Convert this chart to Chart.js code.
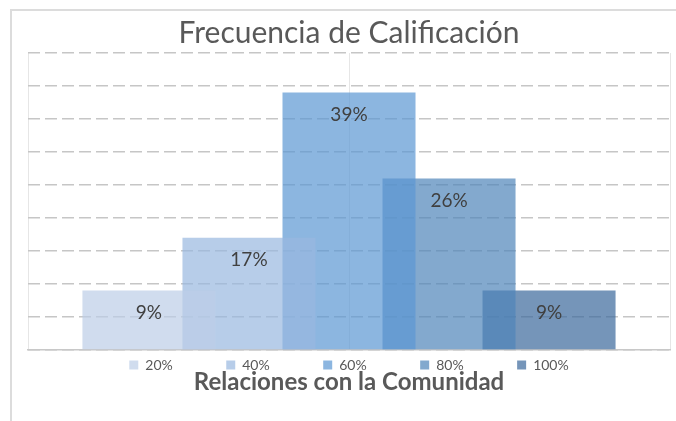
<!DOCTYPE html>
<html>
<head>
<meta charset="utf-8">
<script src="https://cdn.jsdelivr.net/npm/chart.js@4"></script>
<style>
  html, body { margin: 0; padding: 0; background: #ffffff; }
  #wrap { position: relative; width: 676px; height: 421px; overflow: hidden; }
  #frame { position: absolute; left: 10px; top: 9px; width: 700px; height: 440px;
           border: 2px solid #dcdcdc; box-sizing: border-box; pointer-events: none; }
  canvas { position: absolute; left: 0; top: 0; }
</style>
</head>
<body>
<div id="wrap">
  <div id="frame"></div>
  <canvas id="c" width="676" height="421"></canvas>
</div>
<script>
// ---- data ----
const chartTitle = 'Frecuencia de Calificación';
const axisTitle = 'Relaciones con la Comunidad';
const categories = [''];
const seriesNames = ['20%', '40%', '60%', '80%', '100%'];
const seriesValues = [9, 17, 39, 26, 9];
const yMax = 45;
const yStep = 5;
const gridSlots = ['', '', ''];

// ---- styles ----
const seriesColors = [
  'rgba(188,205,231,0.7)',
  'rgba(152,184,224,0.7)',
  'rgba(91,151,211,0.7)',
  'rgba(79,132,185,0.7)',
  'rgba(58,104,155,0.7)'
];
const FONT = 'Lato';
const legendGap = '\u2003\u2003\u2003\u2003\u2005';

const datasets = seriesNames.map((name, i) => ({
  label: name,
  data: [seriesValues[i]],
  backgroundColor: seriesColors[i],
  borderWidth: 0
}));

const barLabels = {
  id: 'barLabels',
  afterDatasetsDraw(chart) {
    const ctx = chart.ctx;
    ctx.save();
    ctx.font = '19px ' + FONT;
    ctx.fillStyle = '#404040';
    ctx.textAlign = 'center';
    ctx.textBaseline = 'middle';
    chart.data.datasets.forEach((ds, i) => {
      chart.getDatasetMeta(i).data.forEach((bar, j) => {
        ctx.fillText(ds.data[j] + '%', bar.x, bar.y + 22);
      });
    });
    ctx.restore();
  }
};

new Chart(document.getElementById('c'), {
  type: 'bar',
  data: { labels: categories, datasets },
  plugins: [barLabels],
  options: {
    responsive: false,
    animation: false,
    categoryPercentage: 0.779,
    barPercentage: 1.33,
    layout: { padding: { left: 28, right: 6, top: 0, bottom: 24.6 } },
    scales: {
      x: {
        type: 'category',
        ticks: { display: false },
        grid: { display: false, drawTicks: false },
        border: { display: true, color: '#c8c8c8', width: 1.5 }
      },
      xg: {
        type: 'category',
        labels: gridSlots,
        offset: false,
        position: 'bottom',
        ticks: { display: false },
        grid: { color: '#e6e6e6', lineWidth: 1, drawTicks: false, offset: false },
        border: { display: false }
      },
      y: {
        min: 0, max: yMax,
        ticks: { display: false, stepSize: yStep },
        grid: { color: '#c6c6c6', lineWidth: 1.5, drawTicks: false },
        border: { display: false, dash: [12, 5] }
      }
    },
    plugins: {
      tooltip: { enabled: false },
      title: {
        display: true,
        text: chartTitle,
        color: '#595959',
        font: { family: FONT, size: 30, weight: 'normal' },
        padding: { top: 15, bottom: 2 }
      },
      legend: {
        position: 'bottom',
        labels: {
          boxWidth: 9, boxHeight: 9,
          padding: 8,
          color: '#595959',
          font: { family: FONT, size: 14 },
          generateLabels(chart) {
            const items = Chart.defaults.plugins.legend.labels.generateLabels(chart);
            return items.map((it, i) => Object.assign(it, {
              text: i < items.length - 1 ? it.text + legendGap : it.text,
              lineWidth: 0
            }));
          }
        }
      },
      subtitle: {
        display: true,
        position: 'bottom',
        text: axisTitle,
        color: '#595959',
        font: { family: FONT, size: 24, weight: 'bold' },
        padding: { top: -14.4, bottom: 0 }
      }
    }
  }
});
</script>
</body>
</html>
